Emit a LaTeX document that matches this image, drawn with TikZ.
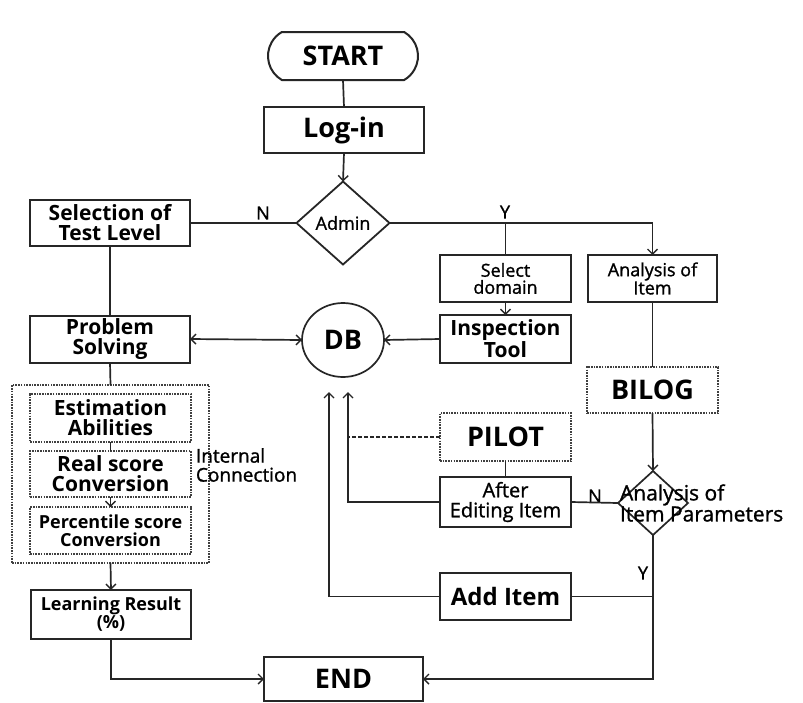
\documentclass[tikz,border=0pt]{standalone}
\usepackage{fontspec}
\setmainfont{Open Sans}
\newfontfamily\medfont[FakeBold=1.2]{Open Sans}
\usetikzlibrary{shapes.geometric,shapes.misc,arrows.meta}
\begin{document}
\begin{tikzpicture}[x=1pt,y=-1pt,
  every node/.style={inner sep=0pt, outer sep=0pt, text=black},
  box/.style={draw=black!85, line width=2pt, rectangle, align=center},
  dbox/.style={draw=black!75, line width=1.5pt, dash pattern=on 1.6pt off 1.1pt, rectangle, align=center},
  conn/.style={draw=black!85, line width=1.7pt},
  arr/.style={conn, -{Straight Barb[length=5pt,width=10pt,line width=1.4pt]}},
  darr/.style={conn, {Straight Barb[length=5pt,width=10pt,line width=1.4pt]}-{Straight Barb[length=5pt,width=10pt,line width=1.4pt]}},
  fbig/.style={font=\bfseries\fontsize{27}{27}\selectfont},
  fmid/.style={font=\bfseries\fontsize{21}{20}\selectfont},
  fsmall/.style={font=\bfseries\fontsize{18}{18}\selectfont},
  freg/.style={font=\medfont\fontsize{18}{17}\selectfont},
  flab/.style={font=\medfont\fontsize{18}{18}\selectfont},
]
\fill[white] (0,0) rectangle (803,702);
\useasboundingbox (0,0) rectangle (803,702);

% top
\node[draw=black!85, line width=2pt, rounded rectangle, rounded rectangle arc length=120,
      minimum width=150pt, minimum height=48pt, fbig] (start) at (343,56) {START};
\node[box, minimum width=160pt, minimum height=46pt, fbig] (login) at (344,130) {Log-in};
\node[draw=black!85, line width=1.8pt, diamond, minimum width=93pt, minimum height=83pt, freg] (admin) at (343,223) {Admin};

% left column
\node[box, minimum width=160pt, minimum height=46pt, fmid] (sel) at (110,223) {Selection of\\Test Level};
\node[box, minimum width=160pt, minimum height=47pt, fmid] (prob) at (110,339) {Problem\\Solving};
\node[dbox, minimum width=197pt, minimum height=178pt] (outer) at (110.5,474) {};
\node[dbox, minimum width=161pt, minimum height=48pt, fmid] (est) at (110.5,418) {Estimation\\Abilities};
\node[dbox, minimum width=161pt, minimum height=46pt, fmid] (real) at (110.5,474) {Real score\\Conversion};
\node[dbox, minimum width=161pt, minimum height=47pt, fsmall] (perc) at (110.5,530.5) {Percentile score\\Conversion};
\node[anchor=west, align=left, font=\medfont\fontsize{19}{19}\selectfont] (internal) at (196,465) {Internal\\Connection};
\node[box, minimum width=160pt, minimum height=49pt, fsmall] (learn) at (111,614.5) {Learning Result\\(\%)};
\node[box, minimum width=159pt, minimum height=44pt, fbig] (end) at (343.5,679) {END};

% centre
\node[draw=black!85, line width=1.7pt, ellipse, minimum width=82pt, minimum height=74pt, fbig] (db) at (343,340) {DB};
\node[box, minimum width=131pt, minimum height=47pt, freg] (seldom) at (505.5,278.5) {Select\\domain};
\node[box, minimum width=131pt, minimum height=48pt, fmid] (insp) at (505.5,339) {Inspection\\Tool};
\node[dbox, minimum width=131pt, minimum height=48pt, fbig] (pilot) at (505.5,437) {PILOT};
\node[box, minimum width=131pt, minimum height=50pt, font=\medfont\fontsize{20}{20}\selectfont] (after) at (505.5,502) {After\\Editing Item};
\node[box, minimum width=131pt, minimum height=47pt, font=\bfseries\fontsize{24}{24}\selectfont] (addi) at (505.5,596.5) {Add Item};

% right column
\node[box, minimum width=129pt, minimum height=47pt, freg] (anitem) at (652.5,278.5) {Analysis of\\Item};
\node[dbox, minimum width=131pt, minimum height=46pt, fbig] (bilog) at (652.5,390) {BILOG};
\node[draw=black!85, line width=1.7pt, diamond, minimum width=70pt, minimum height=64pt] (param) at (653,503) {};
\node[anchor=west, align=left, font=\medfont\fontsize{21}{20}\selectfont] (paramtext) at (620,503) {Analysis of\\Item Parameters};

% labels
\node[flab] (lN1) at (263,213) {N};
\node[flab] (lY1) at (505,212) {Y};
\node[flab] (lN2) at (595,496) {N};
\node[flab] (lY2) at (643,573) {Y};

% helper coordinates
\coordinate (ybr) at (505.5,223);
\coordinate (dbin1) at (329,392);
\coordinate (dbin2) at (348,392);

% connectors
\draw[conn] (start.south) -- (login.north);
\draw[arr] (login.south) -- (admin.north);
\draw[conn] (admin.west) -- (sel.east);
\draw[arr] (admin.east) -| (anitem.north);
\draw[conn] (ybr) -- (seldom.north);
\draw[arr] (seldom.south) -- (insp.north);
\draw[arr] (insp.west) -- (db.east);
\draw[darr] (prob.east) -- (db.west);
\draw[conn] (sel.south) -- (prob.north);
\draw[conn] (prob.south) -- (outer.north);
\draw[conn] (est.south) -- (real.north);
\draw[arr] (real.south) -- (perc.north);
\draw[arr] (outer.south) -- (learn.north);
\draw[arr] (learn.south) |- (end.west);
\draw[conn] (anitem.south) -- (bilog.north);
\draw[arr] (bilog.south) -- (param.north);
\draw[conn] (after.east) -- (param.west);
\draw[conn] (pilot.south) -- (after.north);
\draw[conn, line width=1.3pt, dash pattern=on 4pt off 2pt] (pilot.west) -- (pilot.west -| dbin2);
\draw[arr] (after.west) -| (dbin2);
\draw[arr] (addi.west) -| (dbin1);
\draw[arr] (param.south) |- (end.east);
\draw[conn] (addi.east) -- (addi.east -| param.south);
\end{tikzpicture}
\end{document}
